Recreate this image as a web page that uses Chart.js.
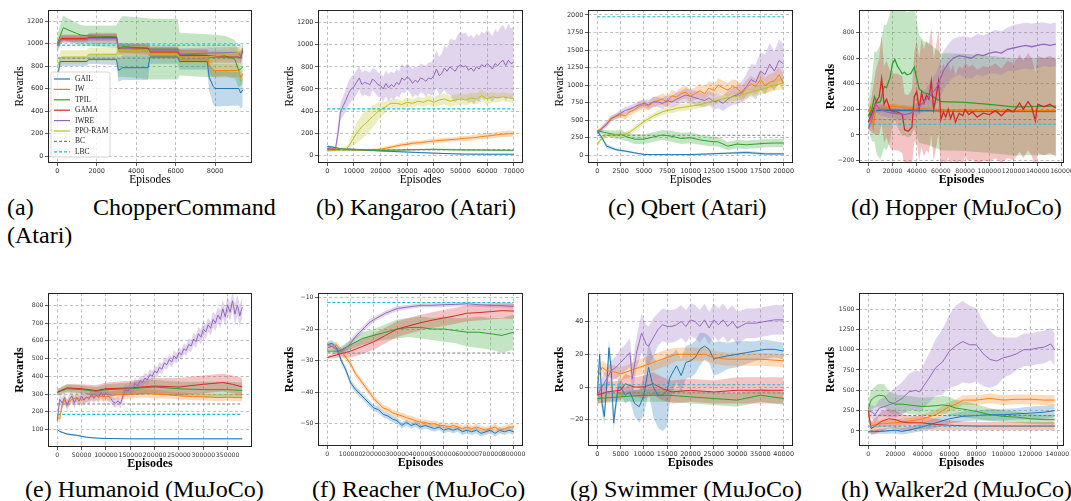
<!DOCTYPE html>
<html>
<head>
<meta charset="utf-8">
<script src="https://cdn.jsdelivr.net/npm/chart.js@4.4.1/dist/chart.umd.min.js"></script>
<style>
  html, body { margin: 0; padding: 0; background: #fff; width: 1071px; height: 501px; overflow: hidden; position: relative; }
  canvas { position: absolute; }
  .cap { position: absolute; font-family: "Liberation Serif", "Times New Roman", serif; font-size: 24px; line-height: 24px; color: #000; white-space: nowrap; }
</style>
</head>
<body>
<div class="cap" style="left:7px;top:195px">(a)</div>
<div class="cap" style="left:93px;top:195px">ChopperCommand</div>
<div class="cap" style="left:7px;top:223px">(Atari)</div>
<div class="cap" style="left:316px;top:195px">(b) Kangaroo (Atari)</div>
<div class="cap" style="left:608px;top:195px">(c) Qbert (Atari)</div>
<div class="cap" style="left:851px;top:195px">(d) Hopper (MuJoCo)</div>
<div class="cap" style="left:25px;top:477px">(e) Humanoid (MuJoCo)</div>
<div class="cap" style="left:312px;top:477px">(f) Reacher (MuJoCo)</div>
<div class="cap" style="left:570px;top:477px">(g) Swimmer (MuJoCo)</div>
<div class="cap" style="left:841px;top:477px">(h) Walker2d (MuJoCo)</div>

<script>
// legend names, in plotting order
const METHODS = ["GAIL", "IW", "TPIL", "GAMA", "IWRE", "PPO-RAM"];

// every series point: [episode, mean reward, half-width of shaded band]

// (a) ChopperCommand
const chopperGAIL = [[0,690,30],[150,840,40],[1500,840,40],[1600,860,40],[3000,860,50],[3100,760,100],[3300,785,110],[4600,785,110],[4700,880,60],[6100,880,60],[6200,840,70],[7600,840,70],[7700,700,120],[7900,620,160],[8000,600,160],[9200,600,150],[9300,560,140],[9400,590,150]];
const chopperIW = [[0,990,30],[200,1050,30],[1500,1050,30],[1600,1060,30],[3000,1060,30],[3100,950,50],[3300,950,50],[4600,950,50],[4700,920,50],[6100,920,50],[6200,890,60],[7600,890,60],[7700,800,60],[7900,760,60],[9200,760,60],[9300,700,50],[9400,730,60]];
const chopperTPIL = [[0,1000,80],[300,1140,110],[700,1110,100],[1200,1075,90],[1500,1068,90],[3000,1060,100],[3100,950,250],[3300,975,270],[4600,955,270],[4700,950,270],[6100,950,270],[6200,905,190],[7600,893,190],[8500,890,180],[9000,860,170],[9200,760,150],[9400,790,150]];
const chopperGAMA = [[0,980,30],[200,1045,30],[1500,1045,30],[1600,1055,30],[3000,1055,30],[3100,960,40],[4600,960,40],[4700,925,40],[6100,925,40],[6200,895,50],[7600,895,50],[7700,880,50],[9200,880,50],[9300,870,50],[9400,940,50]];
const chopperIWRE = [[0,980,30],[200,1035,30],[1500,1035,30],[1600,1045,50],[3000,1045,50],[3100,965,40],[4600,935,40],[4700,935,40],[6100,935,40],[6200,905,50],[7600,915,50],[9200,920,50],[9300,880,50],[9400,960,50]];
const chopperPPO = [[0,800,60],[200,880,60],[1500,880,60],[1600,905,60],[3000,905,60],[3100,940,40],[4600,940,40],[4700,905,40],[6100,905,40],[6200,870,50],[7600,880,50],[9200,920,50],[9400,950,50]];
const chopperBC = 870, chopperLBC = 985;
const chopperXTicks = [0, 2000, 4000, 6000, 8000];
const chopperYTicks = [0, 200, 400, 600, 800, 1000, 1200];

// (b) Kangaroo
const kangarooGAIL = [[0,80,15],[2000,75,10],[5000,60,8],[10000,55,8],[20000,40,8],[30000,30,6],[40000,20,5],[50000,12,4],[60000,10,4],[70000,10,4]];
const kangarooIW = [[0,60,10],[5000,55,10],[10000,50,10],[15000,50,10],[20000,55,12],[22000,65,15],[25000,80,15],[28000,95,18],[30000,100,18],[32000,110,20],[35000,115,20],[38000,125,20],[40000,130,20],[42000,135,20],[45000,140,20],[48000,145,20],[50000,150,22],[52000,155,22],[55000,160,25],[58000,170,25],[60000,175,25],[62000,180,25],[65000,190,25],[68000,195,30],[70000,195,25]];
const kangarooTPIL = [[0,55,8],[10000,50,8],[20000,45,8],[30000,50,8],[40000,55,8],[50000,50,8],[60000,48,8],[70000,45,8]];
const kangarooIWRE = [[0,60,15],[1500,70,15],[3000,50,15],[4000,200,60],[5000,400,80],[6000,450,90],[7000,500,100],[8000,560,110],[9000,600,110],[10000,620,110],[11000,660,110],[12000,700,110],[13000,640,110],[14000,660,110],[15000,650,110],[16000,640,110],[17000,690,100],[18000,670,110],[19000,640,110],[20000,630,110],[21000,600,110],[22000,650,120],[23000,610,120],[24000,640,120],[25000,620,120],[26000,660,120],[27000,640,120],[28000,700,130],[29000,680,120],[30000,710,120],[31000,690,120],[32000,650,130],[33000,680,130],[34000,660,130],[35000,700,130],[36000,690,130],[37000,670,140],[38000,700,140],[39000,690,150],[40000,720,160],[41000,780,170],[42000,720,170],[43000,740,180],[44000,790,200],[45000,760,210],[46000,800,250],[47000,780,270],[48000,760,280],[49000,800,290],[50000,820,300],[51000,800,300],[52000,810,300],[53000,770,300],[54000,790,300],[55000,760,300],[56000,800,300],[57000,780,300],[58000,820,300],[59000,800,300],[60000,830,310],[61000,810,300],[62000,780,300],[63000,830,310],[64000,810,300],[65000,840,320],[66000,860,320],[67000,810,320],[68000,860,330],[69000,830,320],[70000,840,320]];
const kangarooPPO = [[0,40,10],[3000,45,10],[5000,50,15],[7000,60,20],[8000,80,30],[9000,120,50],[10000,160,70],[11000,200,90],[12000,230,100],[13000,260,110],[14000,280,110],[15000,300,110],[16000,330,100],[17000,350,100],[18000,370,90],[19000,400,80],[20000,410,70],[21000,430,60],[22000,440,50],[23000,460,40],[24000,470,40],[26000,470,40],[28000,460,40],[30000,480,40],[32000,470,40],[34000,490,40],[36000,480,40],[38000,500,45],[40000,480,45],[42000,500,50],[44000,510,50],[46000,490,50],[48000,500,50],[50000,510,50],[52000,500,50],[54000,520,50],[56000,510,50],[58000,540,50],[60000,510,50],[62000,530,50],[64000,520,40],[66000,530,40],[68000,520,40],[70000,515,40]];
const kangarooBC = 50, kangarooLBC = 420;
const kangarooXTicks = [0, 10000, 20000, 30000, 40000, 50000, 60000, 70000];
const kangarooYTicks = [0, 200, 400, 600, 800, 1000, 1200];

// (c) Qbert
const qbertGAIL = [[0,350,20],[500,250,40],[1000,130,30],[2000,80,20],[3000,60,15],[4000,35,12],[5000,12,10],[6000,10,10],[8000,10,10],[10000,10,10],[12000,20,12],[14000,30,15],[16000,40,20],[17000,30,20],[18000,20,15],[20000,20,15]];
const qbertIW = [[0,330,30],[500,390,30],[1000,450,40],[1500,530,40],[2000,550,40],[2500,580,50],[3000,560,50],[3500,620,50],[4000,650,50],[4500,700,60],[5000,720,60],[5500,700,60],[6000,760,70],[6500,780,70],[7000,800,80],[7500,760,80],[8000,850,80],[8500,830,80],[9000,880,90],[9500,900,90],[10000,840,90],[10500,880,90],[11000,920,100],[11500,880,100],[12000,960,100],[12500,920,100],[13000,1000,100],[13500,960,100],[14000,930,100],[14500,980,100],[15000,960,110],[15500,880,110],[16000,960,110],[16500,1020,110],[17000,980,110],[17500,1080,120],[18000,990,120],[18500,1040,120],[19000,1060,120],[19500,1150,120],[20000,1020,120]];
const qbertTPIL = [[0,350,20],[1000,320,40],[2000,290,60],[2500,300,70],[3000,270,60],[4000,230,70],[5000,230,70],[6000,260,70],[7000,290,70],[8000,270,80],[9000,240,80],[10000,250,80],[11000,220,70],[12000,200,70],[13000,190,70],[14000,130,60],[15000,160,60],[16000,150,60],[17000,160,60],[18000,170,60],[19000,175,60],[20000,175,60]];
const qbertIWRE = [[0,320,30],[500,380,30],[1000,440,40],[1500,520,40],[2000,560,40],[2500,600,50],[3000,640,50],[3500,660,50],[4000,690,50],[4500,720,60],[5000,740,60],[5500,720,70],[6000,760,70],[6500,760,70],[7000,740,80],[7500,780,80],[8000,760,80],[8500,800,90],[9000,830,90],[9500,860,100],[10000,840,100],[10500,820,100],[11000,800,100],[11500,780,100],[12000,820,100],[12500,760,110],[13000,780,110],[13500,740,110],[14000,800,120],[14500,840,120],[15000,860,130],[15500,900,150],[16000,980,180],[16500,1080,220],[17000,1040,250],[17500,1200,280],[18000,1150,280],[18500,1300,300],[19000,1200,280],[19500,1350,300],[20000,1300,280]];
const qbertPPO = [[0,150,30],[500,250,30],[1000,280,30],[1500,290,30],[2000,290,30],[2500,290,30],[3000,300,30],[3500,330,35],[4000,380,40],[4500,430,40],[5000,480,40],[5500,520,40],[6000,560,40],[6500,590,45],[7000,620,45],[7500,640,45],[8000,650,50],[8500,670,50],[9000,680,50],[9500,690,50],[10000,700,50],[11000,720,50],[12000,760,50],[13000,790,50],[14000,820,60],[15000,840,60],[16000,880,60],[17000,920,70],[18000,950,70],[19000,1000,80],[20000,1030,80]];
const qbertBC = 285, qbertLBC = 1975;
const qbertXTicks = [0, 2500, 5000, 7500, 10000, 12500, 15000, 17500, 20000];
const qbertYTicks = [0, 250, 500, 750, 1000, 1250, 1500, 1750, 2000];

// (d) Hopper
const hopperGAIL = [[0,150,20],[5000,190,20],[10000,195,15],[50000,190,10],[100000,185,10],[155000,185,10]];
const hopperIW = [[0,180,20],[2000,220,30],[4000,60,30],[6000,200,20],[10000,210,20],[20000,225,20],[30000,215,20],[40000,205,15],[60000,195,10],[100000,190,10],[155000,190,10]];
const hopperTPIL = [[0,150,100],[3000,200,250],[5000,300,350],[7000,250,400],[10000,260,450],[13000,380,480],[15000,370,490],[18000,450,500],[20000,560,480],[22000,590,470],[24000,540,480],[26000,510,480],[28000,480,490],[30000,490,490],[32000,470,490],[35000,480,490],[38000,530,480],[40000,440,450],[42000,360,420],[46000,330,400],[50000,320,400],[55000,290,390],[60000,260,380],[80000,255,380],[100000,240,380],[120000,220,380],[155000,225,380]];
const hopperGAMA = [[0,100,50],[3000,170,150],[6000,250,250],[9000,300,300],[11000,440,350],[13000,240,300],[15000,280,300],[18000,200,300],[20000,180,300],[24000,180,300],[28000,160,300],[30000,40,280],[33000,30,280],[36000,60,300],[38000,300,350],[40000,340,400],[42000,200,400],[44000,330,420],[46000,250,420],[48000,310,430],[50000,280,420],[52000,420,420],[54000,200,400],[56000,300,400],[58000,420,400],[60000,120,380],[62000,180,380],[64000,140,370],[66000,200,370],[68000,130,370],[70000,180,370],[72000,100,370],[75000,170,370],[78000,150,370],[80000,200,370],[83000,160,370],[86000,180,370],[90000,140,370],[95000,170,370],[100000,160,370],[105000,190,370],[110000,150,370],[115000,200,380],[120000,180,380],[125000,250,380],[128000,200,380],[132000,260,380],[135000,220,380],[138000,110,380],[140000,240,380],[145000,220,380],[150000,240,380],[155000,210,380]];
const hopperIWRE = [[0,50,20],[3000,120,40],[6000,240,60],[10000,200,50],[15000,180,40],[20000,170,40],[25000,165,40],[30000,160,40],[35000,170,40],[40000,200,50],[45000,250,70],[50000,300,100],[55000,350,120],[58000,400,130],[62000,500,150],[66000,560,150],[70000,600,150],[75000,620,150],[80000,610,160],[85000,600,160],[90000,630,160],[95000,620,160],[100000,640,160],[105000,650,170],[110000,640,170],[115000,670,170],[120000,680,180],[125000,690,180],[130000,700,180],[135000,690,180],[140000,700,180],[145000,710,170],[150000,700,170],[155000,710,170]];
const hopperBC = 120, hopperLBC = 84;
const hopperXTicks = [0, 20000, 40000, 60000, 80000, 100000, 120000, 140000, 160000];
const hopperYTicks = [-200, 0, 200, 400, 600, 800];

// (e) Humanoid
const humanoidGAIL = [[0,100,5],[5000,90,5],[20000,75,5],[40000,68,5],[60000,57,4],[80000,52,3],[100000,50,3],[150000,48,3],[250000,48,3],[380000,48,3]];
const humanoidIW = [[0,170,20],[5000,160,20],[10000,240,25],[15000,265,25],[20000,245,25],[30000,270,25],[40000,280,25],[50000,265,25],[60000,280,25],[80000,290,25],[100000,285,25],[120000,295,25],[150000,300,25],[180000,305,25],[200000,300,25],[230000,295,20],[250000,290,20],[280000,285,20],[300000,285,20],[330000,280,20],[350000,282,20],[380000,280,20]];
const humanoidTPIL = [[0,310,20],[20000,330,25],[50000,325,25],[80000,315,25],[100000,325,30],[150000,330,35],[200000,340,40],[250000,330,40],[300000,325,45],[350000,325,45],[380000,320,45]];
const humanoidGAMA = [[0,310,15],[20000,335,20],[50000,330,25],[80000,320,30],[100000,330,35],[150000,335,40],[200000,345,45],[250000,340,50],[300000,355,50],[340000,365,50],[360000,355,50],[380000,340,50]];
const humanoidIWRE = [[0,150,20],[5000,270,30],[10000,250,30],[15000,280,30],[20000,235,30],[25000,270,30],[30000,290,30],[35000,250,30],[40000,280,30],[45000,260,30],[50000,290,30],[55000,265,30],[60000,285,30],[65000,270,30],[70000,300,30],[75000,275,30],[80000,295,30],[85000,280,30],[90000,310,30],[95000,285,30],[100000,305,30],[105000,290,30],[110000,275,25],[115000,255,25],[120000,250,25],[125000,262,25],[130000,245,25],[135000,290,30],[140000,325,30],[145000,315,30],[150000,340,30],[155000,330,30],[160000,360,30],[165000,345,30],[170000,375,30],[175000,365,30],[180000,390,30],[185000,380,30],[190000,410,30],[195000,400,30],[200000,430,30],[205000,420,30],[210000,450,30],[215000,440,30],[220000,475,30],[225000,465,30],[230000,495,30],[235000,480,30],[240000,515,30],[245000,500,30],[250000,535,30],[255000,520,30],[260000,555,30],[265000,545,30],[270000,580,35],[275000,570,35],[280000,610,35],[285000,595,35],[290000,640,40],[295000,620,40],[300000,665,40],[305000,650,40],[310000,690,40],[315000,670,40],[320000,720,45],[325000,700,45],[330000,745,45],[335000,720,50],[340000,780,50],[345000,735,50],[350000,800,50],[355000,760,50],[360000,825,50],[365000,750,60],[370000,800,60],[375000,740,60],[380000,790,60]];
const humanoidBC = 244, humanoidLBC = 186;
const humanoidXTicks = [0, 50000, 100000, 150000, 200000, 250000, 300000, 350000];
const humanoidYTicks = [100, 200, 300, 400, 500, 600, 700, 800];

// (f) Reacher
const reacherGAIL = [[0,-25,1],[20000,-24.5,1],[40000,-26,1],[60000,-30,1],[80000,-33,1],[100000,-37,1],[120000,-39,1],[140000,-40.5,1],[160000,-42,1],[180000,-43.5,1],[200000,-45,1],[220000,-45.5,1],[240000,-47,1],[260000,-47.5,1],[280000,-48.5,1],[300000,-49,1],[320000,-50.5,1],[340000,-49.5,1],[360000,-50.5,1],[380000,-50,1],[400000,-51,1],[420000,-50.5,1],[440000,-51,1],[460000,-51.5,1],[480000,-51,1],[500000,-52,1],[520000,-51.5,1],[540000,-52,1],[560000,-51.5,1],[580000,-52.5,1],[600000,-52,1],[620000,-52.5,1],[640000,-52,1],[660000,-53,1],[680000,-52.5,1],[700000,-52,1],[720000,-53,1],[740000,-52,1],[760000,-52.5,1],[780000,-52,1],[800000,-52.5,1]];
const reacherIW = [[0,-25,1],[20000,-25.5,1],[40000,-25,1],[60000,-27,1],[80000,-29,1],[100000,-31,1],[120000,-34,1],[140000,-36,1],[160000,-38,1],[180000,-40,1],[200000,-42,1],[220000,-43.5,1],[240000,-45,1],[260000,-45.5,1],[280000,-46.5,1],[300000,-47,1],[320000,-47.5,1],[340000,-48,1],[360000,-48.5,1],[380000,-49,1],[400000,-49.5,1],[420000,-49.5,1],[440000,-50,1],[460000,-50,1],[480000,-50.5,1],[500000,-50.5,1],[520000,-51,1],[540000,-50.5,1],[560000,-51,1],[580000,-51.5,1],[600000,-51,1],[620000,-51.5,1],[640000,-51,1],[660000,-51.5,1],[680000,-52,1],[700000,-51.5,1],[720000,-51,1],[740000,-52,1],[760000,-51.5,1],[780000,-51,1],[800000,-51,1]];
const reacherTPIL = [[0,-27,0.5],[50000,-27,1],[100000,-25,1.5],[150000,-23,2],[200000,-22,2],[250000,-21,2.5],[300000,-20,3],[350000,-19.5,3],[400000,-19.5,3.5],[450000,-20,3.5],[500000,-20,4],[550000,-20.5,4],[600000,-21,4.5],[650000,-21,5],[700000,-21.5,5],[750000,-22,5.5],[800000,-21,5.5]];
const reacherGAMA = [[0,-29,0.5],[50000,-28,1],[100000,-27,2],[150000,-25.5,2.5],[200000,-24,2.5],[250000,-22,2.5],[300000,-20,2.5],[350000,-19,2.5],[400000,-18,2.5],[450000,-17.2,2.5],[500000,-16.5,2.5],[550000,-15.8,2.5],[600000,-15,2.5],[650000,-14.8,2.5],[700000,-14.5,2.5],[750000,-14.2,2.5],[800000,-14.3,2.5]];
const reacherIWRE = [[0,-26,1],[20000,-25.5,1],[40000,-26.5,1],[60000,-27,1],[80000,-26,1.2],[100000,-24.5,1.2],[120000,-22.5,1],[140000,-21,1],[160000,-19.5,1],[180000,-18,1],[200000,-17,0.8],[250000,-15,0.8],[300000,-13.5,0.8],[350000,-13,0.7],[400000,-12.5,0.7],[450000,-12.5,0.7],[500000,-12.3,0.7],[550000,-12.2,0.7],[600000,-12,0.7],[650000,-12.3,0.7],[700000,-12.5,0.7],[750000,-12.6,0.7],[800000,-12.8,0.8]];
const reacherBC = -27.6, reacherLBC = -11.6;
const reacherXTicks = [0, 100000, 200000, 300000, 400000, 500000, 600000, 700000, 800000];
const reacherYTicks = [-50, -40, -30, -20, -10];

// (g) Swimmer
const swimmerGAIL = [[0,-5,3],[500,20,5],[1000,-10,5],[1500,-18,5],[2000,0,5],[2500,24,5],[3000,10,5],[3500,-22,5],[4000,-10,5],[4500,0,5],[5000,0,5],[6000,-5,5],[7000,-3,5],[8000,-10,8],[9000,-12,10],[10000,-5,12],[11000,12,15],[12000,0,18],[13000,-5,20],[14000,-5,22],[15000,-2,22],[15500,5,15],[16000,8,12],[17000,13,10],[18000,7,10],[19000,15,10],[20000,16,10],[21000,18,10],[22000,23,10],[23000,25,8],[24000,23,8],[25000,17,10],[26000,18,10],[28000,19,8],[30000,20,8],[32000,21,7],[34000,22,6],[36000,23,6],[38000,23,5],[40000,22,5]];
const swimmerIW = [[0,5,5],[1000,12,4],[2000,10,4],[4000,9,4],[5000,8,4],[7000,10,4],[9000,12,5],[11000,14,5],[13000,16,5],[15000,18,5],[17000,20,4],[20000,20,4],[23000,20,4],[25000,18,4],[28000,17,4],[30000,17,4],[35000,17,4],[40000,16,4]];
const swimmerTPIL = [[0,-7,3],[5000,-6,3],[10000,-5,4],[15000,-5,4],[20000,-6,4],[25000,-7,4],[30000,-8,4],[35000,-5,4],[40000,-7,4]];
const swimmerGAMA = [[0,-5,5],[2000,-3,6],[5000,-2,6],[6000,2,6],[8000,0,6],[10000,0,7],[12000,2,7],[14000,-1,7],[16000,-3,7],[20000,-2,7],[25000,-3,7],[30000,-2,8],[35000,-2,8],[40000,-2,8]];
const swimmerIWRE = [[0,-5,5],[1000,0,6],[2000,5,6],[3000,10,6],[4000,12,7],[5000,15,8],[6000,18,8],[7000,21,9],[7500,5,9],[8500,22,10],[9500,33,12],[10500,26,12],[11000,25,12],[12000,30,12],[13000,35,10],[14000,38,10],[15000,37,10],[16000,37,10],[17000,38,10],[18000,40,10],[19000,37,10],[20000,41,10],[21000,40,10],[22000,37,10],[23000,41,10],[24000,36,10],[25000,41,10],[26000,38,10],[27000,41,10],[28000,37,10],[29000,40,10],[30000,36,10],[32000,39,9],[34000,39,9],[36000,40,9],[38000,41,9],[40000,41,9]];
const swimmerBC = -3.6, swimmerLBC = 1.4;
const swimmerXTicks = [0, 5000, 10000, 15000, 20000, 25000, 30000, 35000, 40000];
const swimmerYTicks = [-20, 0, 20, 40];

// (h) Walker2d
const walkerGAIL = [[0,-10,20],[10000,-5,30],[20000,10,40],[25000,-5,40],[30000,10,40],[40000,50,50],[50000,100,60],[60000,150,60],[70000,180,60],[80000,190,60],[90000,200,70],[100000,200,70],[110000,210,70],[120000,220,80],[130000,230,80],[138000,250,80]];
const walkerIW = [[0,200,60],[2000,60,40],[5000,80,40],[10000,90,40],[20000,100,40],[30000,120,40],[40000,150,50],[50000,200,60],[55000,250,60],[60000,300,60],[65000,330,60],[70000,380,60],[80000,380,60],[90000,400,60],[100000,380,60],[110000,390,60],[120000,390,60],[130000,380,60],[138000,380,60]];
const walkerTPIL = [[0,270,100],[2000,380,120],[5000,420,130],[8000,440,140],[12000,430,140],[15000,360,130],[20000,330,120],[25000,330,110],[30000,320,110],[40000,300,110],[50000,310,110],[55000,320,110],[60000,310,110],[65000,280,100],[70000,270,100],[80000,240,90],[90000,200,80],[100000,180,70],[110000,170,70],[120000,150,60],[130000,140,60],[138000,140,60]];
const walkerGAMA = [[0,250,60],[2000,30,80],[5000,60,100],[10000,120,120],[15000,150,120],[20000,140,110],[25000,110,100],[30000,100,90],[40000,100,80],[50000,80,70],[60000,70,60],[80000,60,50],[100000,60,50],[120000,60,50],[138000,60,50]];
const walkerIWRE = [[0,250,80],[3000,230,80],[5000,200,100],[8000,280,100],[12000,300,120],[15000,320,150],[20000,350,180],[25000,400,200],[30000,480,220],[35000,500,250],[38000,480,250],[40000,530,260],[45000,650,300],[50000,780,350],[55000,850,400],[60000,980,450],[65000,1050,500],[70000,1100,500],[75000,1060,480],[80000,1060,450],[85000,950,400],[90000,880,350],[95000,860,300],[100000,900,250],[105000,920,230],[110000,950,200],[115000,1000,200],[120000,1000,200],[125000,1020,200],[130000,1030,200],[135000,1070,200],[138000,1000,200]];
const walkerBC = 190, walkerLBC = 60;
const walkerXTicks = [0, 20000, 40000, 60000, 80000, 100000, 120000, 140000];
const walkerYTicks = [0, 250, 500, 750, 1000, 1250, 1500];

// styling
const COLORS = { "GAIL": "#1f77b4", "IW": "#ff7f0e", "TPIL": "#2ca02c", "GAMA": "#d62728", "IWRE": "#9467bd", "PPO-RAM": "#bcbd22" };
const BC_COLOR = "#7f7f7f", LBC_COLOR = "#17becf";

function rgba(hex, a) {
  const n = parseInt(hex.slice(1), 16);
  return `rgba(${n >> 16},${(n >> 8) & 255},${n & 255},${a})`;
}
const fmt = (v) => (v < 0 ? "\u2212" + Math.abs(v) : String(v));

// frame around the plot area (matplotlib spines)
const framePlugin = {
  id: "frame",
  afterDatasetsDraw(chart) {
    const { ctx, chartArea: a } = chart;
    ctx.save();
    ctx.strokeStyle = "#222";
    ctx.lineWidth = 1;
    ctx.strokeRect(a.left + 0.5, a.top + 0.5, a.right - a.left - 1, a.bottom - a.top - 1);
    ctx.restore();
  },
};

// legend drawn inside the plot, lower left (only chart a)
const insideLegend = {
  id: "insideLegend",
  afterDraw(chart, args, opts) {
    if (!opts.show) return;
    const { ctx, chartArea: a } = chart;
    const entries = METHODS.map((m) => ({ label: m, color: COLORS[m], dash: [] }))
      .concat([{ label: "BC", color: BC_COLOR, dash: [3, 2] }, { label: "LBC", color: LBC_COLOR, dash: [3, 2] }]);
    const x0 = a.left + 3, w = 59, h = 85, y0 = a.bottom - 6 - h;
    ctx.save();
    ctx.fillStyle = "rgba(255,255,255,0.8)";
    ctx.strokeStyle = "#ccc";
    ctx.lineWidth = 0.8;
    ctx.beginPath();
    ctx.roundRect(x0, y0, w, h, 2);
    ctx.fill();
    ctx.stroke();
    ctx.font = '7.5px "Liberation Serif", serif';
    ctx.textBaseline = "middle";
    entries.forEach((e, i) => {
      const y = y0 + 7 + i * 10.4;
      ctx.strokeStyle = e.color;
      ctx.lineWidth = 1.2;
      ctx.setLineDash(e.dash);
      ctx.beginPath();
      ctx.moveTo(x0 + 3, y);
      ctx.lineTo(x0 + 19, y);
      ctx.stroke();
      ctx.setLineDash([]);
      ctx.fillStyle = "#222";
      ctx.fillText(e.label, x0 + 24, y);
    });
    ctx.restore();
  },
};

const charts = [
  { box: [48, 10, 252, 163], xr: [-470, 9870], yr: [-62, 1298], xt: chopperXTicks, yt: chopperYTicks, bold: false, legend: true,
    series: [chopperGAIL, chopperIW, chopperTPIL, chopperGAMA, chopperIWRE, chopperPPO], bc: chopperBC, lbc: chopperLBC },
  { box: [318, 10, 523, 163], xr: [-3500, 73500], yr: [-69, 1314], xt: kangarooXTicks, yt: kangarooYTicks, bold: false,
    series: [kangarooGAIL, kangarooIW, kangarooTPIL, null, kangarooIWRE, kangarooPPO], bc: kangarooBC, lbc: kangarooLBC },
  { box: [588, 10, 793, 163], xr: [-1000, 21000], yr: [-110, 2071], xt: qbertXTicks, yt: qbertYTicks, bold: false,
    series: [qbertGAIL, qbertIW, qbertTPIL, null, qbertIWRE, qbertPPO], bc: qbertBC, lbc: qbertLBC },
  { box: [859, 10, 1064, 163], xr: [-7700, 161700], yr: [-219, 977], xt: hopperXTicks, yt: hopperYTicks, bold: true, lw: 1.3, small: true,
    series: [hopperGAIL, hopperIW, hopperTPIL, hopperGAMA, hopperIWRE, null], bc: hopperBC, lbc: hopperLBC },
  { box: [48, 293, 252, 447], xr: [-19000, 400000], yr: [2, 869], xt: humanoidXTicks, yt: humanoidYTicks, bold: true, small: true,
    series: [humanoidGAIL, humanoidIW, humanoidTPIL, humanoidGAMA, humanoidIWRE, null], bc: humanoidBC, lbc: humanoidLBC },
  { box: [318, 293, 523, 446], xr: [-40000, 840000], yr: [-57, -8.6], xt: reacherXTicks, yt: reacherYTicks, bold: true, small: true,
    series: [reacherGAIL, reacherIW, reacherTPIL, reacherGAMA, reacherIWRE, null], bc: reacherBC, lbc: reacherLBC },
  { box: [588, 293, 793, 446], xr: [-2000, 42000], yr: [-36, 57.4], xt: swimmerXTicks, yt: swimmerYTicks, bold: true,
    series: [swimmerGAIL, swimmerIW, swimmerTPIL, swimmerGAMA, swimmerIWRE, null], bc: swimmerBC, lbc: swimmerLBC },
  { box: [859, 293, 1064, 446], xr: [-6900, 144900], yr: [-185, 1697], xt: walkerXTicks, yt: walkerYTicks, bold: true, small: true,
    series: [walkerGAIL, walkerIW, walkerTPIL, walkerGAMA, walkerIWRE, null], bc: walkerBC, lbc: walkerLBC },
];

function makeChart(spec) {
  const [l, t, r, b] = spec.box;
  const padL = 35, padT = 6, padR = 16, padB = 24;
  const cv = document.createElement("canvas");
  cv.width = r - l + padL + padR;
  cv.height = b - t + padT + padB;
  cv.style.left = l - padL + "px";
  cv.style.top = t - padT + "px";
  document.body.appendChild(cv);

  const datasets = [];
  let xStart = Infinity, xEnd = -Infinity;
  spec.series.forEach((pts, i) => {
    if (!pts) return;
    const c = COLORS[METHODS[i]];
    xStart = Math.min(xStart, pts[0][0]);
    xEnd = Math.max(xEnd, pts[pts.length - 1][0]);
    datasets.push({
      label: METHODS[i] + " hi", data: pts.map((p) => ({ x: p[0], y: p[1] + p[2] })),
      borderWidth: 0, pointRadius: 0, fill: false, order: 60 - i,
    });
    datasets.push({
      label: METHODS[i] + " lo", data: pts.map((p) => ({ x: p[0], y: p[1] - p[2] })),
      borderWidth: 0, pointRadius: 0, fill: "-1", backgroundColor: rgba(c, 0.28), order: 60 - i,
    });
  });
  spec.series.forEach((pts, i) => {
    if (!pts) return;
    datasets.push({
      label: METHODS[i], data: pts.map((p) => ({ x: p[0], y: p[1] })),
      borderColor: COLORS[METHODS[i]], borderWidth: spec.lw || 1, pointRadius: 0, fill: false,
      tension: 0, order: 20 - i,
    });
  });
  datasets.push({ label: "BC", data: [{ x: xStart, y: spec.bc }, { x: xEnd, y: spec.bc }],
    borderColor: BC_COLOR, borderDash: [3, 2], borderWidth: 1, pointRadius: 0, order: 2 });
  datasets.push({ label: "LBC", data: [{ x: xStart, y: spec.lbc }, { x: xEnd, y: spec.lbc }],
    borderColor: LBC_COLOR, borderDash: [3, 2], borderWidth: 1.2, pointRadius: 0, order: 1 });

  const titleFont = { family: '"Liberation Serif", serif', size: spec.bold ? 12 : 11.5, weight: spec.bold ? "bold" : "normal" };
  const tickFont = { family: '"DejaVu Sans", sans-serif', size: spec.small ? 6.2 : 6.5 };
  const axis = (range, ticks) => ({
    type: "linear", min: range[0], max: range[1],
    afterBuildTicks: (s) => { s.ticks = ticks.map((v) => ({ value: v })); },
    ticks: { font: tickFont, color: "#333", padding: 1.5, maxRotation: 0, autoSkip: false, callback: (v) => fmt(v) },
    grid: { color: "#b0b0b0", lineWidth: 0.8, tickLength: 3, tickColor: "#333", tickWidth: 0.8 },
    border: { display: false, dash: [3, 2.5] },
  });

  const xs = axis(spec.xr, spec.xt);
  xs.title = { display: true, text: "Episodes", font: titleFont, color: "#000", padding: 0 };
  xs.afterFit = (s) => { s.height = padB; };
  const ys = axis(spec.yr, spec.yt);
  ys.title = { display: true, text: "Rewards", font: titleFont, color: "#000", padding: 0 };
  ys.afterFit = (s) => { s.width = padL; };

  new Chart(cv.getContext("2d"), {
    type: "line",
    data: { datasets },
    options: {
      responsive: false, animation: false, parsing: false, normalized: true,
      layout: { padding: { top: padT, right: padR, left: 0, bottom: 0 } },
      scales: { x: xs, y: ys },
      plugins: { legend: { display: false }, tooltip: { enabled: false }, insideLegend: { show: !!spec.legend } },
    },
    plugins: [framePlugin, insideLegend],
  });
}

charts.forEach(makeChart);
</script>
</body>
</html>
